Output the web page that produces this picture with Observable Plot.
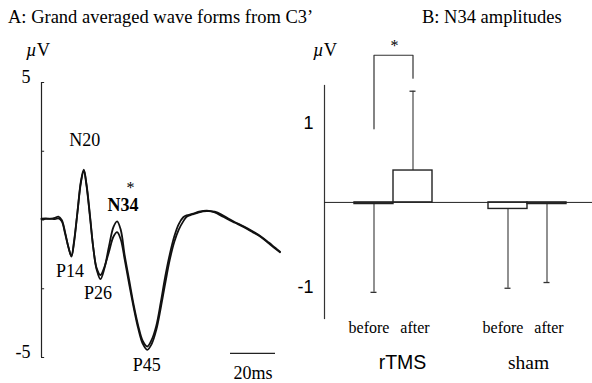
<!DOCTYPE html>
<html><head><meta charset="utf-8">
<script src="https://cdn.jsdelivr.net/npm/d3@7"></script>
<script src="https://cdn.jsdelivr.net/npm/@observablehq/plot@0.6"></script>
<style>
body{margin:0;background:#fff;}
#wrap{position:relative;width:592px;height:383px;overflow:hidden;background:#fff;font-family:"Liberation Serif","Times New Roman",serif;color:#000;}
.t{position:absolute;white-space:nowrap;line-height:1;}
#pa,#pb{position:absolute;top:0;}
#pa{left:0}#pb{left:290px}
svg{display:block}
</style></head><body>
<div id="wrap">
<div id="pa"></div><div id="pb"></div>
<div class="t" style="left:8px;top:8px;font-size:18.5px">A: Grand averaged wave forms from C3’</div>
<div class="t" style="left:422px;top:8px;font-size:18.5px">B: N34 amplitudes</div>
<div class="t" style="left:26px;top:41px;font-size:18.5px"><i>µ</i>V</div>
<div class="t" style="left:313px;top:41px;font-size:18.5px"><i>µ</i>V</div>
</div>
<script>
// ---------- Panel A data: grand averaged wave forms (ms, µV) ----------
const times  = [0,2,4,6,7.5,9,10.5,12,13.3,14.5,16,17.5,18.8,20,21.5,23,24.5,26.2,28,30,32,33.6,35.2,37,39,41,43,45,47,49,51,53,55,57,59,61,63,64.5,67,70,73.5,77,80,83,86,90,94,97.5,101,104,106];
const after  = [0.05,0.06,0.04,0.08,0.12,0.0,-0.45,-1.0,-1.33,-0.8,0.3,1.4,1.83,1.3,0.2,-1.0,-1.8,-2.15,-1.75,-0.95,-0.25,-0.05,-0.35,-1.3,-2.2,-3.1,-3.85,-4.4,-4.6,-4.35,-3.85,-3.0,-2.05,-1.25,-0.6,-0.15,0.1,0.17,0.22,0.3,0.34,0.28,0.15,0.02,-0.1,-0.26,-0.45,-0.62,-0.85,-1.05,-1.17];
const before = [0.03,0.04,0.05,0.03,0.06,-0.05,-0.5,-1.0,-1.3,-0.75,0.3,1.35,1.8,1.25,0.15,-1.0,-1.75,-2.0,-1.7,-1.15,-0.6,-0.44,-0.7,-1.45,-2.35,-3.2,-3.95,-4.5,-4.72,-4.5,-4.0,-3.2,-2.3,-1.45,-0.8,-0.35,-0.05,0.12,0.2,0.28,0.32,0.3,0.2,0.05,-0.08,-0.24,-0.42,-0.6,-0.82,-1.02,-1.15];
const yTicksA = [5, 2.5, 0, -2.5, -5];
const yLabelsA = [5, -5];
const peaks = [
  {name:"P14", t:13.3, v:-1.33},
  {name:"N20", t:18.8, v:1.83},
  {name:"P26", t:26.2, v:-2.15},
  {name:"N34", t:33.6, v:-0.05},
  {name:"P45", t:47,   v:-4.62}
];
const scaleBar = [{t0:84, t1:104, v:-4.85, label:"20ms"}];

// ---------- Panel B data: N34 amplitudes ----------
const groups     = ["rTMS","rTMS","sham","sham"];
const conditions = ["before","after","before","after"];
const means      = [-0.02, 0.39, -0.08, -0.02];
const sds        = [1.08, 0.97, 0.97, 0.96];
const yTicksB    = [1, -1];
const bracket    = [
  {group:"rTMS", condition:"before", v:0.9},
  {group:"rTMS", condition:"before", v:1.8},
  {group:"rTMS", condition:"after",  v:1.8},
  {group:"rTMS", condition:"after",  v:1.52}
];
const sig = [{group:"rTMS", label:"*", v:1.8}];

// ---------- build tables ----------
const traces = [];
times.forEach((t,i)=>{ traces.push({t, v:before[i], cond:"before"}); traces.push({t, v:after[i], cond:"after"}); });
const bars = groups.map((g,i)=>({group:g, condition:conditions[i], mean:means[i], sd:sds[i],
  end: means[i] >= 0 ? means[i]+sds[i] : means[i]-sds[i]}));

const SERIF = "Liberation Serif, Times New Roman, serif";
const SANS = "Liberation Sans, Arial, sans-serif";
const pk = n => peaks.filter(d=>d.name===n);

const A = Plot.plot({
  width:300, height:383,
  marginLeft:41, marginRight:20.5, marginTop:82, marginBottom:26,
  style:{background:"transparent", color:"#000"},
  x:{domain:[0,106], axis:null, label:null},
  y:{domain:[-5,5], axis:null, label:null},
  marks:[
    Plot.ruleX([0], {y1:yTicksA[yTicksA.length-1], y2:yTicksA[0], stroke:"#222", strokeWidth:1.2}),
    Plot.ruleY(yTicksA, {x1:0, x2:1.4, stroke:"#222", strokeWidth:1}),
    Plot.axisY(yLabelsA, {label:null, tickSize:0, tickPadding:11, dy:-5, fontSize:18, fontFamily:SERIF, tickFormat:d=>String(d), fill:"#000"}),
    Plot.line(traces, {x:"t", y:"v", z:"cond", stroke:"#111", strokeWidth:1.8, curve:"catmull-rom"}),
    Plot.text(pk("N20"), {x:"t", y:"v", text:"name", dx:1, dy:-29, fontSize:18, fontFamily:SERIF}),
    Plot.text(pk("N34"), {x:"t", y:"v", text:"name", dx:6, dy:-16, fontSize:18, fontFamily:SERIF, fontWeight:"bold"}),
    Plot.text(pk("N34"), {x:"t", y:"v", text:()=>"*", dx:13.5, dy:-34, fontSize:16, fontFamily:SERIF}),
    Plot.text(pk("P14"), {x:"t", y:"v", text:"name", dx:-1.5, dy:15, fontSize:18, fontFamily:SERIF}),
    Plot.text(pk("P26"), {x:"t", y:"v", text:"name", dx:-2.5, dy:14.5, fontSize:18, fontFamily:SERIF}),
    Plot.text(pk("P45"), {x:"t", y:"v", text:"name", dx:-0.5, dy:18.5, fontSize:18, fontFamily:SERIF}),
    Plot.ruleY(scaleBar, {x1:"t0", x2:"t1", y:"v", stroke:"#222", strokeWidth:1.2}),
    Plot.text(scaleBar, {x:d=>(d.t0+d.t1)/2, y:"v", text:"label", dy:20, fontSize:18, fontFamily:SERIF})
  ]
});
document.getElementById("pa").appendChild(A);

const B = Plot.plot({
  width:302, height:383,
  marginLeft:33, marginRight:0, marginTop:85, marginBottom:65,
  style:{background:"transparent", color:"#000"},
  fx:{domain:["rTMS","sham"], paddingInner:0, paddingOuter:0, axis:null, label:null},
  x:{domain:["before","after"], paddingInner:0, paddingOuter:0.7025, align:0.536, label:null},
  y:{domain:[-1.42,1.43], label:null},
  marks:[
    Plot.frame({anchor:"left", facetAnchor:"left", stroke:"#333", strokeWidth:1.2}),
    Plot.ruleX(bars, {fx:"group", x:"condition", y1:"mean", y2:"end", stroke:"#555", strokeWidth:1.3}),
    Plot.tickY(bars, {fx:"group", x:"condition", y:"end", insetLeft:16.5, insetRight:16.5, stroke:"#333", strokeWidth:1.3}),
    Plot.barY(bars, {fx:"group", x:"condition", y:"mean", fill:"white", stroke:"#222", strokeWidth:1.4}),
    Plot.ruleY([0], {stroke:"#222", strokeWidth:1}),
    Plot.line(bracket, {fx:"group", x:"condition", y:"v", stroke:"#333", strokeWidth:1.2}),
    Plot.text(sig, {fx:"group", y:"v", text:"label", dx:3, dy:-9, fontSize:16, fontFamily:SERIF}),
    Plot.axisY(yTicksB, {label:null, tickSize:0, tickPadding:11, dy:3, fontSize:18, fontFamily:SANS, tickFormat:d=>String(d), fill:"#000"}),
    Plot.axisX(["before"], {label:null, tickSize:0, tickPadding:3, dx:-5, fontSize:16, fontFamily:SERIF, fill:"#000"}),
    Plot.axisX(["after"], {label:null, tickSize:0, tickPadding:3, dx:2, fontSize:16, fontFamily:SERIF, fill:"#000"}),
    Plot.text(["rTMS"], {fx:d=>d, text:d=>d, frameAnchor:"bottom", dx:11, dy:50, fontSize:19.5, fontFamily:SANS}),
    Plot.text(["sham"], {fx:d=>d, text:d=>d, frameAnchor:"bottom", dx:3, dy:50, fontSize:19.5, fontFamily:SERIF})
  ]
});
document.getElementById("pb").appendChild(B);
</script>
</body></html>
